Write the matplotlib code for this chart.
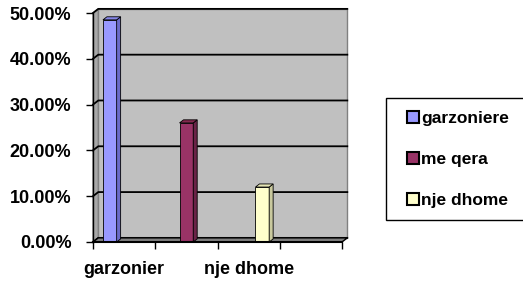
import matplotlib.pyplot as plt
from matplotlib.patches import Polygon, Rectangle
import matplotlib.patches as mpatches

plt.rcParams['font.family'] = ['Liberation Sans', 'DejaVu Sans']
plt.rcParams['font.weight'] = 'bold'

series = ['garzoniere', 'me qera', 'nje dhome']
values = [0.485, 0.26, 0.12]
categories = ['garzonier', '', 'nje dhome', '']
yticks = [0.0, 0.1, 0.2, 0.3, 0.4, 0.5]

face = ['#9999FF', '#993366', '#FFFFCC']
side = ['#6B6BC8', '#6A2347', '#C9C99E']
top = ['#8585E6', '#84294F', '#E5E5B5']

W, H = 523, 282
fig = plt.figure(figsize=(W / 100, H / 100), dpi=100)
ax = fig.add_axes([93 / W, 40 / H, 249 / W, 229 / H])
ax.set_xlim(0, len(categories))
ax.set_ylim(0, 0.5)

# depth of the 3d wall, in data units
dx, dy = 0.085, 0.009
ncat = len(categories)

# back wall, side wall, floor
ax.add_patch(Polygon([(dx, dy), (ncat + dx, dy), (ncat + dx, 0.5 + dy), (dx, 0.5 + dy)],
                     closed=True, fc='#C0C0C0', ec='#808080', lw=1, clip_on=False, zorder=1))
ax.add_patch(Polygon([(0, 0), (dx, dy), (dx, 0.5 + dy), (0, 0.5)],
                     closed=True, fc='#A8A8A8', ec='#808080', lw=1, clip_on=False, zorder=1))
ax.add_patch(Polygon([(0, 0), (ncat, 0), (ncat + dx, dy), (dx, dy)],
                     closed=True, fc='#808080', ec='black', lw=1, clip_on=False, zorder=2))

for y in yticks:
    ax.plot([0, dx, ncat + dx], [y, y + dy, y + dy], color='black', lw=1.3,
            clip_on=False, zorder=1.5)

# bars, clustered inside each category
bw = 0.22
offs = [-0.23, 0.0, 0.22]
bdx, bdy = dx * 0.75, dy * 0.75
for i, (v, o) in enumerate(zip(values, offs)):
    x0 = i + 0.5 + o - bw / 2
    ax.add_patch(Rectangle((x0, 0), bw, v, fc=face[i], ec='black', lw=0.6, zorder=3))
    ax.add_patch(Polygon([(x0 + bw, 0), (x0 + bw + bdx, bdy), (x0 + bw + bdx, v + bdy), (x0 + bw, v)],
                         closed=True, fc=side[i], ec='black', lw=0.6, zorder=3))
    ax.add_patch(Polygon([(x0, v), (x0 + bw, v), (x0 + bw + bdx, v + bdy), (x0 + bdx, v + bdy)],
                         closed=True, fc=top[i], ec='black', lw=0.6, zorder=3))

for s in ['top', 'right']:
    ax.spines[s].set_visible(False)
ax.spines['left'].set_linewidth(1)
ax.spines['bottom'].set_linewidth(1.5)
ax.spines['left'].set_zorder(4)
ax.spines['bottom'].set_zorder(4)
ax.set_facecolor('none')

ax.set_yticks(yticks)
ax.set_yticklabels(['%.2f%%' % (y * 100) for y in yticks], fontsize=13, fontweight='bold')
ax.tick_params(axis='y', length=5, width=1, pad=10.5)

ax.set_xticks(range(ncat + 1))
ax.set_xticklabels([])
ax.tick_params(axis='x', which='major', length=5, width=1)
ax.set_xticks([i + 0.5 for i in range(ncat)], minor=True)
ax.set_xticklabels(categories, minor=True, fontsize=13, fontweight='bold')
ax.tick_params(axis='x', which='minor', length=0, pad=14)

# legend
fig.patches.append(Rectangle((386 / W, 1 - 220 / H), 140 / W, 122 / H, transform=fig.transFigure,
                             fc='white', ec='black', lw=1, clip_on=False))
handles = [mpatches.Patch(fc=face[i], ec='black', lw=1.5) for i in range(len(series))]
fig.legend(handles, series, loc='upper left', bbox_to_anchor=(407 / W, 1 - 110.5 / H),
           frameon=False, prop={'weight': 'bold', 'size': 12.5},
           handlelength=0.7, handleheight=0.7, handletextpad=0.1, labelspacing=1.5,
           borderpad=0, borderaxespad=0)

fig.savefig('out.png', dpi=100)
